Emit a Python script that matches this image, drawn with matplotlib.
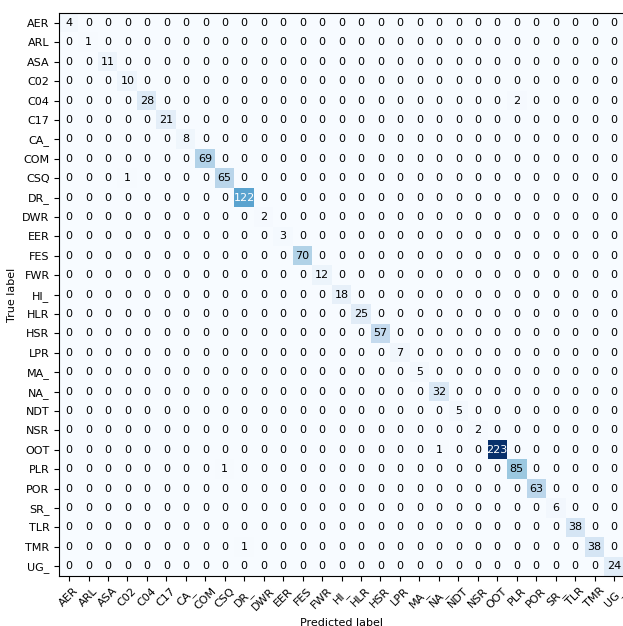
import numpy as np
import matplotlib
matplotlib.use("Agg")
import matplotlib.pyplot as plt

classes = ["AER", "ARL", "ASA", "C02", "C04", "C17", "CA_", "COM", "CSQ", "DR_",
           "DWR", "EER", "FES", "FWR", "HI_", "HLR", "HSR", "LPR", "MA_", "NA_",
           "NDT", "NSR", "OOT", "PLR", "POR", "SR_", "TLR", "TMR", "UG_"]

# diagonal counts (correct predictions)
diag = [4, 1, 11, 10, 28, 21, 8, 69, 65, 122,
        2, 3, 70, 12, 18, 25, 57, 7, 5, 32,
        5, 2, 223, 85, 63, 6, 38, 38, 24]

# off-diagonal errors: (true, predicted, count)
errors = [("CSQ", "C02", 1), ("C04", "PLR", 2), ("PLR", "CSQ", 1),
          ("OOT", "NA_", 1), ("TMR", "DR_", 1)]

n = len(classes)
cm = np.diag(diag)
for t, p, c in errors:
    cm[classes.index(t), classes.index(p)] = c

fig = plt.figure(figsize=(6.23, 6.26), dpi=100)
ax = fig.add_axes([0.0952, 0.0799, 0.906, 0.899])
ax.imshow(cm, interpolation="nearest", cmap=plt.cm.Blues, aspect="auto")

tick_marks = np.arange(n)
ax.set_xticks(tick_marks)
ax.set_xticklabels(classes, rotation=45, fontsize=8)
ax.set_yticks(tick_marks)
ax.set_yticklabels(classes, fontsize=8)

thresh = cm.max() / 2.
for i in range(n):
    for j in range(n):
        ax.text(j, i, format(cm[i, j], "d"), ha="center", va="center", fontsize=8,
                color="white" if cm[i, j] > thresh else "black")

ax.set_ylabel("True label", fontsize=8)
ax.set_xlabel("Predicted label", fontsize=8)

fig.savefig("out.png", dpi=100)
